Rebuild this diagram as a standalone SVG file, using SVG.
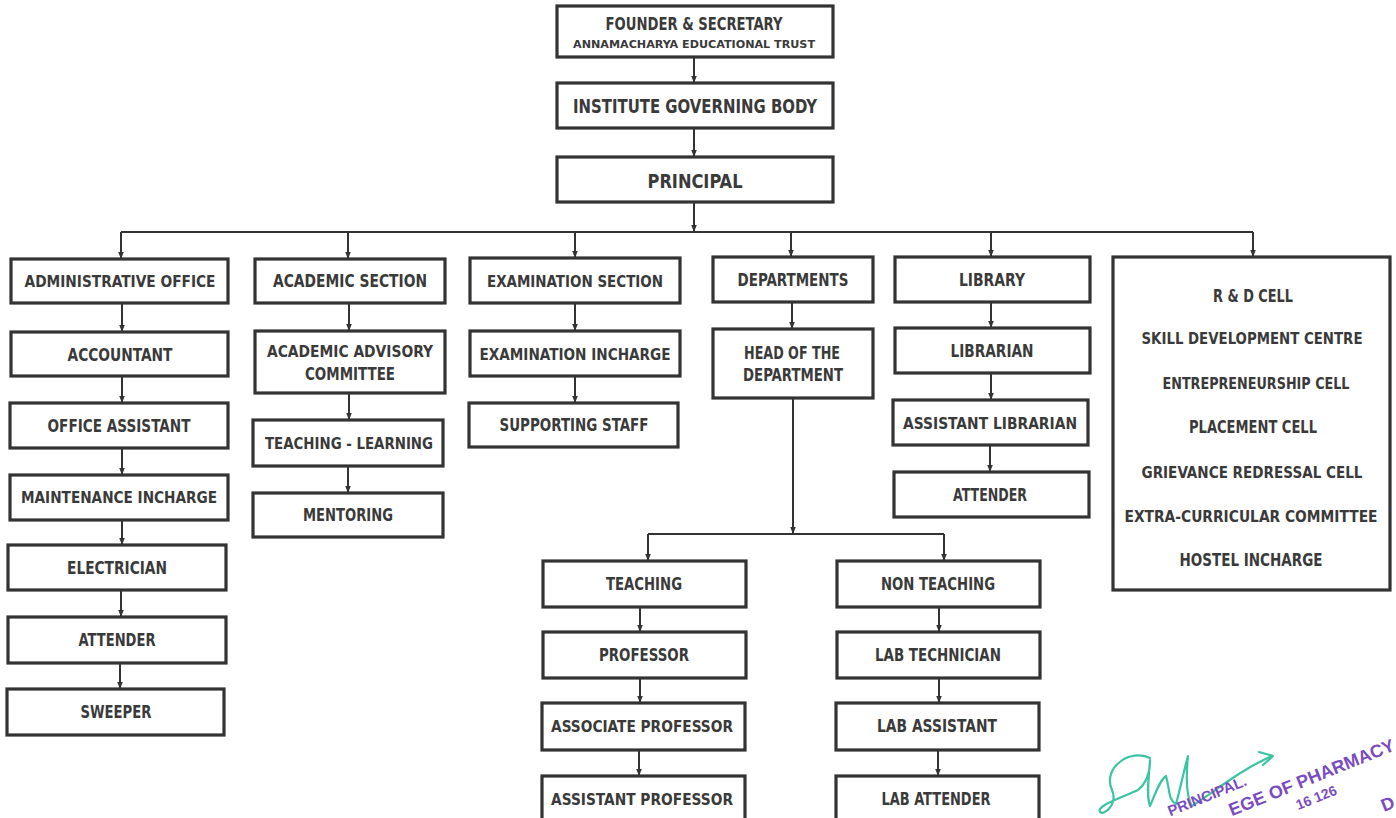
<svg xmlns="http://www.w3.org/2000/svg" width="1396" height="818" viewBox="0 0 1396 818">
<defs>
<style>
.b{fill:#fff;stroke:#333;stroke-width:3.2}
.t{font-family:"Liberation Sans Narrow","DejaVu Sans Condensed","Liberation Sans",sans-serif;font-weight:bold;font-size:18px;fill:#3a3a3a;text-anchor:middle}
.l{font-size:16px}
.c{fill:none;stroke:#333;stroke-width:2}
.s{font-family:"Liberation Sans","DejaVu Sans",sans-serif;font-weight:bold;fill:#7a4cc0}
</style>
<marker id="a" viewBox="0 0 10 10" refX="10" refY="5" markerUnits="userSpaceOnUse" markerWidth="7" markerHeight="7" orient="auto"><path d="M0,1 L10,5 L0,9 z" fill="#333"/></marker>
</defs>
<rect width="1396" height="818" fill="#fff"/>

<g id="connectors">
<path class="c" d="M694,57 V83" marker-end="url(#a)"/>
<path class="c" d="M694,128 V157" marker-end="url(#a)"/>
<path class="c" d="M694,202 V232" marker-end="url(#a)"/>
<path class="c" d="M121,232 H1253"/>
<path class="c" d="M121,232 V259" marker-end="url(#a)"/>
<path class="c" d="M348,232 V259" marker-end="url(#a)"/>
<path class="c" d="M575,232 V258" marker-end="url(#a)"/>
<path class="c" d="M791,232 V257" marker-end="url(#a)"/>
<path class="c" d="M991,232 V257" marker-end="url(#a)"/>
<path class="c" d="M1253,232 V257" marker-end="url(#a)"/>
<path class="c" d="M122,303 V332" marker-end="url(#a)"/>
<path class="c" d="M122,376 V403" marker-end="url(#a)"/>
<path class="c" d="M122,448 V475" marker-end="url(#a)"/>
<path class="c" d="M122,520 V545" marker-end="url(#a)"/>
<path class="c" d="M121,590 V617" marker-end="url(#a)"/>
<path class="c" d="M120,663 V689" marker-end="url(#a)"/>
<path class="c" d="M349,303 V331" marker-end="url(#a)"/>
<path class="c" d="M349,393 V420" marker-end="url(#a)"/>
<path class="c" d="M348,466 V493" marker-end="url(#a)"/>
<path class="c" d="M575,303 V331" marker-end="url(#a)"/>
<path class="c" d="M575,376 V403" marker-end="url(#a)"/>
<path class="c" d="M792,302 V329" marker-end="url(#a)"/>
<path class="c" d="M793,398 V534" marker-end="url(#a)"/>
<path class="c" d="M648,534 H944"/>
<path class="c" d="M648,534 V561" marker-end="url(#a)"/>
<path class="c" d="M944,534 V561" marker-end="url(#a)"/>
<path class="c" d="M991,302 V328" marker-end="url(#a)"/>
<path class="c" d="M991,373 V400" marker-end="url(#a)"/>
<path class="c" d="M990,445 V472" marker-end="url(#a)"/>
<path class="c" d="M640,607 V632" marker-end="url(#a)"/>
<path class="c" d="M640,678 V703" marker-end="url(#a)"/>
<path class="c" d="M639,750 V776" marker-end="url(#a)"/>
<path class="c" d="M939,607 V632" marker-end="url(#a)"/>
<path class="c" d="M939,678 V703" marker-end="url(#a)"/>
<path class="c" d="M938,750 V776" marker-end="url(#a)"/>
</g>

<g id="founder"><rect class="b" x="557" y="6" width="276" height="51"/>
<text class="t" x="694" y="30" style="font-size:17px" textLength="177" lengthAdjust="spacingAndGlyphs">FOUNDER &amp; SECRETARY</text>
<text class="t" x="694" y="48" style="font-size:11px" textLength="242" lengthAdjust="spacingAndGlyphs">ANNAMACHARYA EDUCATIONAL TRUST</text></g>
<g id="governing"><rect class="b" x="557" y="83" width="276" height="45"/>
<text class="t" x="695" y="113" style="font-size:19px" textLength="244" lengthAdjust="spacingAndGlyphs">INSTITUTE GOVERNING BODY</text></g>
<g id="principal"><rect class="b" x="557" y="157" width="276" height="45"/>
<text class="t" x="695" y="188" style="font-size:20px" textLength="95" lengthAdjust="spacingAndGlyphs">PRINCIPAL</text></g>

<g id="admin"><rect class="b" x="11" y="259" width="217" height="44"/>
<text class="t l" x="120" y="287" textLength="191" lengthAdjust="spacingAndGlyphs">ADMINISTRATIVE OFFICE</text></g>
<g id="accountant"><rect class="b" x="11" y="332" width="217" height="44"/>
<text class="t" x="120" y="361" textLength="105" lengthAdjust="spacingAndGlyphs">ACCOUNTANT</text></g>
<g id="officeassistant"><rect class="b" x="10" y="403" width="218" height="45"/>
<text class="t" x="119" y="432" textLength="143" lengthAdjust="spacingAndGlyphs">OFFICE ASSISTANT</text></g>
<g id="maintenance"><rect class="b" x="10" y="475" width="218" height="45"/>
<text class="t l" x="119" y="503" textLength="196" lengthAdjust="spacingAndGlyphs">MAINTENANCE INCHARGE</text></g>
<g id="electrician"><rect class="b" x="8" y="545" width="218" height="45"/>
<text class="t" x="117" y="574" textLength="100" lengthAdjust="spacingAndGlyphs">ELECTRICIAN</text></g>
<g id="attender1"><rect class="b" x="8" y="617" width="218" height="46"/>
<text class="t" x="117" y="646" textLength="77" lengthAdjust="spacingAndGlyphs">ATTENDER</text></g>
<g id="sweeper"><rect class="b" x="7" y="689" width="217" height="46"/>
<text class="t" x="116" y="718" textLength="71" lengthAdjust="spacingAndGlyphs">SWEEPER</text></g>

<g id="academic"><rect class="b" x="255" y="259" width="190" height="44"/>
<text class="t" x="350" y="287" textLength="154" lengthAdjust="spacingAndGlyphs">ACADEMIC SECTION</text></g>
<g id="advisory"><rect class="b" x="255" y="331" width="190" height="62"/>
<text class="t l" x="350" y="357" textLength="166" lengthAdjust="spacingAndGlyphs">ACADEMIC ADVISORY</text>
<text class="t" x="350" y="380" textLength="90" lengthAdjust="spacingAndGlyphs">COMMITTEE</text></g>
<g id="teachinglearning"><rect class="b" x="253" y="420" width="190" height="46"/>
<text class="t l" x="349" y="449" textLength="168" lengthAdjust="spacingAndGlyphs">TEACHING - LEARNING</text></g>
<g id="mentoring"><rect class="b" x="253" y="493" width="190" height="44"/>
<text class="t" x="348" y="521" textLength="90" lengthAdjust="spacingAndGlyphs">MENTORING</text></g>

<g id="examination"><rect class="b" x="470" y="258" width="210" height="45"/>
<text class="t l" x="575" y="287" textLength="176" lengthAdjust="spacingAndGlyphs">EXAMINATION SECTION</text></g>
<g id="examincharge"><rect class="b" x="470" y="331" width="210" height="45"/>
<text class="t l" x="575" y="360" textLength="191" lengthAdjust="spacingAndGlyphs">EXAMINATION INCHARGE</text></g>
<g id="supporting"><rect class="b" x="469" y="403" width="209" height="44"/>
<text class="t" x="574" y="431" textLength="149" lengthAdjust="spacingAndGlyphs">SUPPORTING STAFF</text></g>

<g id="departments"><rect class="b" x="713" y="257" width="160" height="45"/>
<text class="t" x="793" y="286" textLength="111" lengthAdjust="spacingAndGlyphs">DEPARTMENTS</text></g>
<g id="hod"><rect class="b" x="713" y="329" width="160" height="69"/>
<text class="t" x="792" y="359" textLength="96" lengthAdjust="spacingAndGlyphs">HEAD OF THE</text>
<text class="t" x="793" y="381" textLength="100" lengthAdjust="spacingAndGlyphs">DEPARTMENT</text></g>

<g id="library"><rect class="b" x="895" y="257" width="195" height="45"/>
<text class="t" x="992" y="286" textLength="66" lengthAdjust="spacingAndGlyphs">LIBRARY</text></g>
<g id="librarian"><rect class="b" x="895" y="328" width="195" height="45"/>
<text class="t" x="992" y="357" textLength="83" lengthAdjust="spacingAndGlyphs">LIBRARIAN</text></g>
<g id="assistantlibrarian"><rect class="b" x="893" y="400" width="195" height="45"/>
<text class="t l" x="990" y="429" textLength="174" lengthAdjust="spacingAndGlyphs">ASSISTANT LIBRARIAN</text></g>
<g id="attender2"><rect class="b" x="894" y="472" width="195" height="45"/>
<text class="t" x="990" y="501" textLength="74" lengthAdjust="spacingAndGlyphs">ATTENDER</text></g>

<g id="cells"><rect class="b" x="1113" y="257" width="277" height="333"/>
<text class="t" x="1253" y="302" textLength="80" lengthAdjust="spacingAndGlyphs">R &amp; D CELL</text>
<text class="t l" x="1252" y="344" textLength="221" lengthAdjust="spacingAndGlyphs">SKILL DEVELOPMENT CENTRE</text>
<text class="t l" x="1256" y="389" textLength="187" lengthAdjust="spacingAndGlyphs">ENTREPRENEURSHIP CELL</text>
<text class="t" x="1253" y="433" textLength="128" lengthAdjust="spacingAndGlyphs">PLACEMENT CELL</text>
<text class="t l" x="1252" y="478" textLength="221" lengthAdjust="spacingAndGlyphs">GRIEVANCE REDRESSAL CELL</text>
<text class="t" x="1251" y="522" style="font-size:15px" textLength="253" lengthAdjust="spacingAndGlyphs">EXTRA-CURRICULAR COMMITTEE</text>
<text class="t" x="1251" y="566" textLength="143" lengthAdjust="spacingAndGlyphs">HOSTEL INCHARGE</text></g>

<g id="teaching"><rect class="b" x="543" y="561" width="203" height="46"/>
<text class="t" x="644" y="590" textLength="76" lengthAdjust="spacingAndGlyphs">TEACHING</text></g>
<g id="professor"><rect class="b" x="543" y="632" width="203" height="46"/>
<text class="t" x="644" y="661" textLength="90" lengthAdjust="spacingAndGlyphs">PROFESSOR</text></g>
<g id="associateprofessor"><rect class="b" x="542" y="703" width="203" height="47"/>
<text class="t l" x="642" y="732" textLength="182" lengthAdjust="spacingAndGlyphs">ASSOCIATE PROFESSOR</text></g>
<g id="assistantprofessor"><rect class="b" x="542" y="776" width="203" height="48"/>
<text class="t l" x="642" y="805" textLength="182" lengthAdjust="spacingAndGlyphs">ASSISTANT PROFESSOR</text></g>

<g id="nonteaching"><rect class="b" x="837" y="561" width="203" height="46"/>
<text class="t" x="938" y="590" textLength="114" lengthAdjust="spacingAndGlyphs">NON TEACHING</text></g>
<g id="labtechnician"><rect class="b" x="837" y="632" width="203" height="46"/>
<text class="t" x="938" y="661" textLength="126" lengthAdjust="spacingAndGlyphs">LAB TECHNICIAN</text></g>
<g id="labassistant"><rect class="b" x="836" y="703" width="203" height="47"/>
<text class="t" x="937" y="732" textLength="120" lengthAdjust="spacingAndGlyphs">LAB ASSISTANT</text></g>
<g id="labattender"><rect class="b" x="836" y="776" width="203" height="48"/>
<text class="t" x="936" y="805" textLength="109" lengthAdjust="spacingAndGlyphs">LAB ATTENDER</text></g>

<g id="signature" fill="none" stroke="#3cc3a2" stroke-width="2.2" stroke-linecap="round" stroke-linejoin="round">
<path d="M1150,758 C1130,748 1102,768 1112,790 C1118,804 1104,816 1100,812 C1096,806 1120,798 1138,790 C1148,782 1150,768 1150,760 C1149,776 1146,796 1150,806 C1156,792 1160,780 1166,776 C1170,790 1168,800 1176,804 C1180,790 1184,770 1188,756 C1186,776 1186,796 1192,806 C1214,792 1240,770 1272,756"/>
<path d="M1259,752 L1273,756 L1263,765"/>
</g>
<g id="stamp">
<text class="s" font-size="15" transform="translate(1248,785) rotate(-22)" text-anchor="end">PRINCIPAL.</text>
<text class="s" font-size="18" transform="translate(1396,750) rotate(-22)" text-anchor="end">EGE OF PHARMACY</text>
<text class="s" font-size="14" transform="translate(1338,794) rotate(-22)" text-anchor="end">16 126</text>
<text class="s" font-size="18" transform="translate(1384,812) rotate(-22)">D</text>
</g>
</svg>
